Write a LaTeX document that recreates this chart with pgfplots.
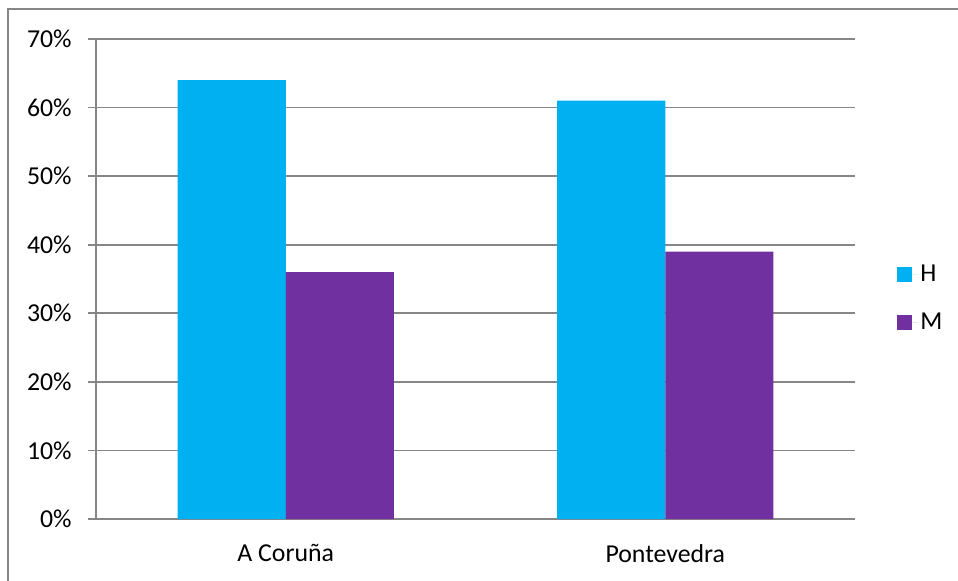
\documentclass[border=0pt]{standalone}
\usepackage{pgfplots}
\pgfplotsset{compat=1.18}
\usepackage{fontspec}
\setmainfont{Carlito}
\definecolor{cH}{HTML}{00B0F0}
\definecolor{cM}{HTML}{7030A0}
\definecolor{axgray}{HTML}{868686}
\begin{document}
\begin{tikzpicture}
\useasboundingbox (0,0) rectangle (479pt,290pt);
\draw[axgray, line width=0.8pt] (4pt,-5pt) -- (4pt,285.5pt) -- (490pt,285.5pt);
\begin{axis}[
  at={(48pt,30.5pt)}, anchor=south west,
  scale only axis, width=379.5pt, height=240pt,
  font=\fontsize{12.9pt}{15pt}\selectfont,
  ymin=0, ymax=70,
  ytick={0,10,20,30,40,50,60,70},
  yticklabels={0\%,10\%,20\%,30\%,40\%,50\%,60\%,70\%},
  xmin=-0.5, xmax=1.5,
  xtick={0,1},
  xticklabels={A Coruña,Pontevedra},
  extra x ticks={-0.5,0.5,1.5},
  extra x tick labels={},
  extra x tick style={grid=none, major tick length=4pt, tick align=outside, tick style={axgray, line width=0.8pt}},
  major x tick style={draw=none},
  axis x line=bottom, axis y line=left,
  axis line style={-, axgray, line width=0.8pt},
  tick align=outside,
  major tick length=4pt,
  ytick style={axgray, line width=0.8pt},
  ymajorgrids,
  major grid style={axgray, line width=0.8pt},
  yticklabel style={inner sep=0pt, xshift=-8pt},
  xticklabel style={inner sep=0pt, yshift=-8.5pt},
  ybar, bar width=0.2846,
  legend style={at={(1.0474,0.4603)}, anchor=west, draw=none, fill=none,
    font=\fontsize{12.9pt}{15pt}\selectfont, row sep=13pt,
    nodes={inner sep=1pt, text height=8pt, text depth=1pt}},
  legend cell align=left,
  legend image code/.code={\fill[#1] (0pt,-3.75pt) rectangle (7.5pt,3.75pt); \path (0pt,0pt) -- (10.5pt,0pt);},
]
\addplot[fill=cH, draw=none, bar shift=-0.1423] coordinates {(0,64) (1,61)};
\addplot[fill=cM, draw=none, bar shift=0.1423] coordinates {(0,36) (1,39)};
\legend{H,M}
\end{axis}
\end{tikzpicture}
\end{document}
